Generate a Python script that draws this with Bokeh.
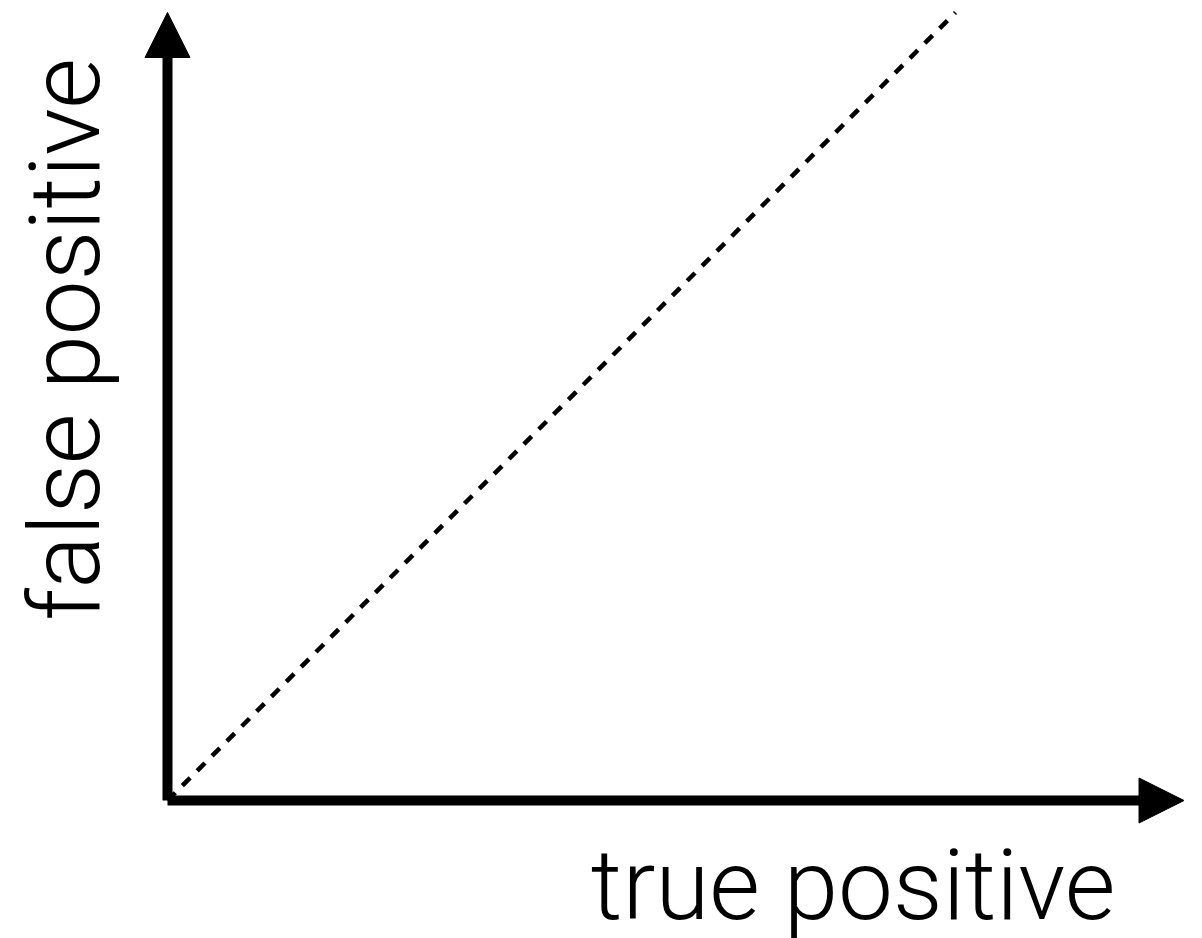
import math

from bokeh.core.properties import value
from bokeh.embed import file_html
from bokeh.models import Arrow, NormalHead, Range1d
from bokeh.plotting import figure
from bokeh.resources import INLINE

# Reference diagonal (chance line) in unit coordinates
diag_x = [0.0, 1.0]
diag_y = [0.0, 1.0]

# Axis arrow extents (unit coordinates)
x_axis_end = 1.29
y_axis_end = 1.0

# Axis titles
x_title = "true positive"
y_title = "false positive"

LABEL_FONT = "Roboto Light, Lato Light, Helvetica Neue, sans-serif"

W, H = 1202, 938
scale = 788.0            # pixels per unit
ox, oy = 167.0, 800.0    # pixel position of the origin

p = figure(
    width=W, height=H,
    x_range=Range1d(-ox / scale, (W - ox) / scale),
    y_range=Range1d(-(H - oy) / scale, oy / scale),
    output_backend="svg", toolbar_location=None,
    min_border=0, outline_line_color=None,
)
p.axis.visible = False
p.grid.visible = False
p.background_fill_color = "white"
p.border_fill_color = "white"

# dotted chance line
p.line(diag_x, diag_y, line_color="black", line_width=4.5, line_dash="11 10")

# axes with arrowheads
for xe, ye in [(x_axis_end, 0.0), (0.0, y_axis_end)]:
    p.add_layout(Arrow(
        x_start=0.0, y_start=0.0, x_end=xe, y_end=ye,
        line_color="black", line_width=10,
        end=NormalHead(size=45, fill_color="black", line_color="black", line_width=1),
    ))

# axis titles
p.text(x=[1.203], y=[-0.108], text=[x_title], text_font=value(LABEL_FONT),
       text_font_size="98px", text_color="black",
       text_align="right", text_baseline="alphabetic")
p.text(x=[-0.13], y=[0.228], text=[y_title], text_font=value(LABEL_FONT),
       text_font_size="98px", text_color="black", angle=math.pi / 2,
       text_align="left", text_baseline="alphabetic")

open("out.html", "w").write(file_html(p, INLINE))
